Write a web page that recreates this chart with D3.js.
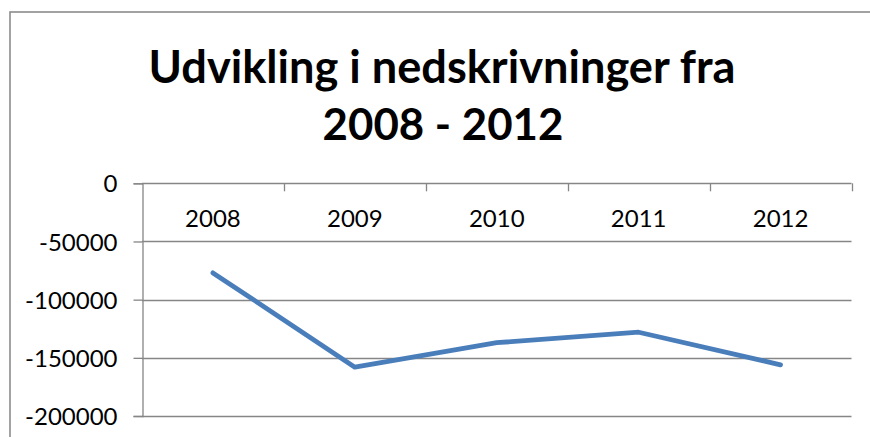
<!DOCTYPE html>
<html>
<head>
<meta charset="utf-8">
<script src="https://cdn.jsdelivr.net/npm/d3@7/dist/d3.min.js"></script>
<style>
  html, body { margin: 0; padding: 0; background: #ffffff; }
  svg { display: block; }
  text { font-family: Lato, "Open Sans", "Liberation Sans", sans-serif; fill: #000; }
</style>
</head>
<body>
<svg id="chart" width="870" height="437"></svg>
<script>
// Write-downs (nedskrivninger) per year
const years = ["2008", "2009", "2010", "2011", "2012"];
const writeDowns = [-77000, -158000, -137000, -128000, -156000];
const yTicks = [0, -50000, -100000, -150000, -200000];
const titleLines = ["Udvikling i nedskrivninger fra", "2008 - 2012"];

const svg = d3.select("#chart");
const gridColor = "#868686";

// Outer chart frame (runs off the right and bottom edges)
svg.append("rect")
  .attr("x", 10).attr("y", 12)
  .attr("width", 900).attr("height", 500)
  .attr("fill", "none")
  .attr("stroke", "#8c8c8c")
  .attr("stroke-width", 1.6);

// Title, sized so the first line spans its box
const title = svg.append("g");
const t1 = title.append("text")
  .attr("x", 442).attr("y", 83)
  .attr("text-anchor", "middle")
  .attr("font-weight", 700)
  .attr("font-size", 40)
  .text(titleLines[0]);
const w40 = t1.node().getComputedTextLength();
const titleSize = 40 * 587 / w40;
t1.attr("font-size", titleSize);
title.append("text")
  .attr("x", 443).attr("y", 140)
  .attr("text-anchor", "middle")
  .attr("font-weight", 700)
  .attr("font-size", titleSize * 0.97)
  .text(titleLines[1]);

// Plot area
const plotLeft = 142, plotRight = 851.5, plotTop = 183.3, plotBottom = 416;

const x = d3.scaleBand().domain(years).range([plotLeft, plotRight]).padding(0);
const y = d3.scaleLinear().domain([-200000, 0]).range([plotBottom, plotTop]);

// Horizontal gridlines
svg.append("g")
  .selectAll("line")
  .data(yTicks.filter(d => d !== 0))
  .join("line")
  .attr("x1", plotLeft).attr("x2", plotRight)
  .attr("y1", d => Math.round(y(d)) + 0.5)
  .attr("y2", d => Math.round(y(d)) + 0.5)
  .attr("stroke", gridColor)
  .attr("stroke-width", 1.3);

// Value axis on the left (plain hyphen for negatives)
const yAxis = d3.axisLeft(y)
  .tickValues(yTicks)
  .tickFormat(d => String(d))
  .tickSize(9)
  .tickPadding(16);
const gy = svg.append("g")
  .attr("transform", `translate(${plotLeft + 0.5},0)`)
  .call(yAxis);
gy.select(".domain").attr("stroke", gridColor).attr("stroke-width", 1.3);
gy.selectAll(".tick line").attr("stroke", gridColor).attr("stroke-width", 1.3);
gy.selectAll(".tick text")
  .attr("font-size", 24)
  .attr("font-family", "Lato, 'Open Sans', sans-serif")
  .attr("fill", "#000")
  .attr("dy", "0.36em");

// Category axis along the zero line, labels inside the plot
const xAxis = d3.axisBottom(x).tickSize(0).tickPadding(0);
const gx = svg.append("g")
  .attr("transform", `translate(0,${Math.round(y(0)) + 0.5})`)
  .call(xAxis);
gx.select(".domain").attr("stroke", gridColor).attr("stroke-width", 1.3)
  .attr("d", `M${plotLeft},0H${plotRight}`);
gx.selectAll(".tick text")
  .attr("font-size", 24)
  .attr("font-family", "Lato, 'Open Sans', sans-serif")
  .attr("fill", "#000")
  .attr("dy", null)
  .attr("y", 43);

// Tick marks at the category boundaries, pointing down
const boundaries = years.map(d => x(d) + x.bandwidth());
svg.append("g")
  .selectAll("line")
  .data(boundaries)
  .join("line")
  .attr("x1", d => Math.round(d) + 0.5).attr("x2", d => Math.round(d) + 0.5)
  .attr("y1", y(0)).attr("y2", y(0) + 8)
  .attr("stroke", gridColor)
  .attr("stroke-width", 1.3);

// Series line
const line = d3.line()
  .x((d, i) => x(years[i]) + x.bandwidth() / 2)
  .y(d => y(d));
svg.append("path")
  .datum(writeDowns)
  .attr("d", line)
  .attr("fill", "none")
  .attr("stroke", "#4a7ebb")
  .attr("stroke-width", 4.8)
  .attr("stroke-linecap", "round")
  .attr("stroke-linejoin", "round");
</script>
</body>
</html>
